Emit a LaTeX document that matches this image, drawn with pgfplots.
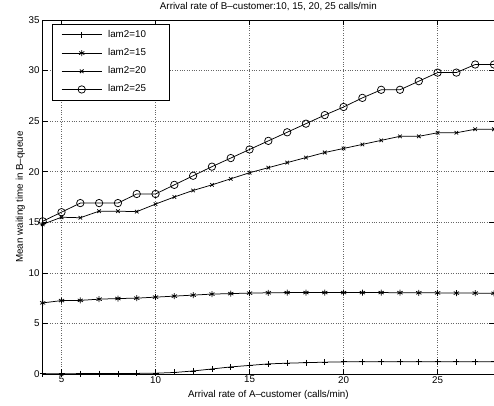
\documentclass[border=0pt]{standalone}
\usepackage{fontspec}
\setmainfont{Liberation Sans}
\usepackage{pgfplots}
\pgfplotsset{compat=1.18}
\begin{document}
\fontsize{9.8}{11.5}\selectfont
\begin{tikzpicture}
\path[use as bounding box] (-42.7pt,-31pt) rectangle (451.3pt,374pt);
\begin{axis}[
  at={(0pt,0pt)}, anchor=south west,
  scale only axis, width=451.3pt, height=354pt,
  xmin=4, xmax=28, ymin=0, ymax=35,
  xtick={5,10,15,20,25}, ytick={0,5,10,15,20,25,30,35},
  tick align=inside, tick pos=both, major tick length=5pt,
  every tick/.style={black, line width=0.6pt},
  grid=major, grid style={dotted, black!60, line width=0.5pt},
  axis line style={line width=0.9pt},
  clip=false,
  /pgf/number format/assume math mode=true,
  xticklabel style={inner sep=2pt},
  yticklabel style={inner sep=3pt},
  title={Arrival rate of B–customer:10, 15, 20, 25 calls/min},
  title style={at={(axis description cs:0.5,1)}, anchor=base, yshift=5pt, inner sep=0pt},
  xlabel={Arrival rate of A–customer (calls/min)},
  xlabel style={at={(axis description cs:0.5,0)}, anchor=north, yshift=-16pt, inner sep=0pt},
  ylabel={Mean waiting time in B–queue},
  ylabel style={at={(axis description cs:-0.039,0.5)}, anchor=south, rotate=0, inner sep=0pt},
  legend cell align=left,
  legend style={at={(axis description cs:0.0206,0.9887)}, anchor=north west,
    draw=black, line width=0.7pt, fill=white,
    inner xsep=9pt, inner ysep=6pt, row sep=9.2pt, column sep=6pt,
    nodes={inner sep=0pt, text height=7pt, text depth=2pt}},
  legend image code/.code={\draw[mark repeat=2, mark phase=2, #1] plot coordinates {(0pt,0pt) (20pt,0pt) (40pt,0pt)};},
]
\addplot[black, line width=0.75pt, mark=+, mark size=3pt] coordinates {
(4,0.02) (5,0.03) (6,0.04) (7,0.04) (8,0.05) (9,0.06) (10,0.08) (11,0.15) (12,0.3) (13,0.5) (14,0.7) (15,0.85) (16,1.0) (17,1.07) (18,1.12) (19,1.17) (20,1.2) (21,1.2) (22,1.2) (23,1.2) (24,1.2) (25,1.2) (26,1.2) (27,1.2) (28,1.2)};
\addlegendentry{lam2=10\hspace*{14pt}}
\addplot[black, line width=0.75pt, mark=asterisk, mark size=3pt] coordinates {
(4,7.03) (5,7.26) (6,7.28) (7,7.4) (8,7.46) (9,7.5) (10,7.6) (11,7.7) (12,7.8) (13,7.9) (14,7.95) (15,8.0) (16,8.03) (17,8.05) (18,8.05) (19,8.05) (20,8.05) (21,8.05) (22,8.05) (23,8.04) (24,8.03) (25,8.02) (26,8.0) (27,8.0) (28,7.98)};
\addlegendentry{lam2=15}
\addplot[black, line width=0.75pt, mark=x, mark size=2.5pt] coordinates {
(4,14.8) (5,15.5) (6,15.45) (7,16.1) (8,16.1) (9,16.05) (10,16.8) (11,17.5) (12,18.15) (13,18.7) (14,19.3) (15,19.9) (16,20.4) (17,20.9) (18,21.4) (19,21.9) (20,22.3) (21,22.7) (22,23.1) (23,23.5) (24,23.5) (25,23.85) (26,23.85) (27,24.2) (28,24.2)};
\addlegendentry{lam2=20}
\addplot[black, line width=0.75pt, mark=o, mark size=3.7pt] coordinates {
(4,15.1) (5,16.0) (6,16.9) (7,16.9) (8,16.9) (9,17.8) (10,17.8) (11,18.7) (12,19.6) (13,20.5) (14,21.35) (15,22.2) (16,23.05) (17,23.9) (18,24.75) (19,25.6) (20,26.4) (21,27.3) (22,28.1) (23,28.1) (24,28.95) (25,29.8) (26,29.8) (27,30.6) (28,30.6)};
\addlegendentry{lam2=25}
\end{axis}
\end{tikzpicture}
\end{document}
